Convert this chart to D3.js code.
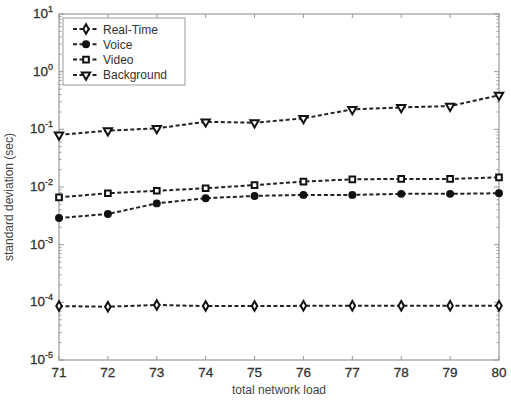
<!DOCTYPE html>
<html>
<head>
<meta charset="utf-8">
<script src="https://cdn.jsdelivr.net/npm/d3@7"></script>
<style>
  body { margin: 0; background: #fff; }
  text { font-family: "Liberation Sans", Arial, sans-serif; fill: #333; }
</style>
</head>
<body>
<svg id="chart" width="511" height="405"></svg>
<script>
const loads = [71, 72, 73, 74, 75, 76, 77, 78, 79, 80];
const realTime = [8.6e-5, 8.4e-5, 9.0e-5, 8.6e-5, 8.6e-5, 8.7e-5, 8.7e-5, 8.7e-5, 8.7e-5, 8.7e-5];
const voice = [0.0029, 0.0034, 0.0052, 0.0064, 0.0070, 0.0073, 0.0073, 0.0076, 0.0076, 0.0078];
const video = [0.0066, 0.0078, 0.0086, 0.0095, 0.0108, 0.0124, 0.0136, 0.0138, 0.0138, 0.0147];
const background = [0.080, 0.095, 0.104, 0.135, 0.130, 0.155, 0.222, 0.240, 0.253, 0.390];
const seriesNames = ["Real-Time", "Voice", "Video", "Background"];
const yExponents = [-5, -4, -3, -2, -1, 0, 1];

const svg = d3.select("#chart");
const margin = { left: 59, right: 12, top: 14, bottom: 45 };
const width = 511, height = 405;

const x = d3.scaleLinear().domain([71, 80]).range([margin.left, width - margin.right]);
const y = d3.scaleLog().domain([1e-5, 10]).range([height - margin.bottom, margin.top]);

const axisColor = "#999";

// frame
svg.append("rect")
    .attr("x", margin.left).attr("y", margin.top)
    .attr("width", x(80) - x(71)).attr("height", y(1e-5) - y(10))
    .attr("fill", "none").attr("stroke", axisColor).attr("stroke-width", 1.2);

// x ticks top and bottom
const g = svg.append("g");
loads.forEach(v => {
    g.append("line").attr("x1", x(v)).attr("x2", x(v))
        .attr("y1", y(1e-5)).attr("y2", y(1e-5) - 4).attr("stroke", axisColor);
    g.append("line").attr("x1", x(v)).attr("x2", x(v))
        .attr("y1", y(10)).attr("y2", y(10) + 4).attr("stroke", axisColor);
    g.append("text").attr("x", x(v)).attr("y", y(1e-5) + 17)
        .attr("text-anchor", "middle").style("font-size", "13.5px")
        .style("fill", "#333").style("stroke", "#333").style("stroke-width", 0.3).text(v);
});

// y ticks (major + minor, both sides)
yExponents.forEach(e => {
    for (let m = 1; m <= 9; m++) {
        const val = m * Math.pow(10, e);
        if (val > 10) break;
        const len = m === 1 ? 5 : 2.5;
        g.append("line").attr("x1", x(71)).attr("x2", x(71) + len)
            .attr("y1", y(val)).attr("y2", y(val)).attr("stroke", axisColor);
        g.append("line").attr("x1", x(80)).attr("x2", x(80) - len)
            .attr("y1", y(val)).attr("y2", y(val)).attr("stroke", axisColor);
    }
    const t = g.append("text").attr("x", 53).attr("y", y(Math.pow(10, e)) + 4)
        .attr("text-anchor", "end").style("font-size", "13.5px")
        .style("fill", "#333").style("stroke", "#333").style("stroke-width", 0.3);
    t.append("tspan").text("10");
    t.append("tspan").attr("dy", -6).style("font-size", "9px").text(e);
});

// axis titles
svg.append("text").attr("x", (x(71) + x(80)) / 2).attr("y", 394)
    .attr("text-anchor", "middle").style("font-size", "12px").style("fill", "#444")
    .text("total network load");
svg.append("text")
    .attr("transform", `translate(13,${(y(1e-5) + y(10)) / 2 + 10}) rotate(-90)`)
    .attr("text-anchor", "middle").style("font-size", "12px").style("fill", "#444")
    .text("standard deviation (sec)");

const symbols = {
    "Real-Time": d3.symbol().type(d3.symbolDiamond).size(26),
    "Voice": d3.symbol().type(d3.symbolCircle).size(28),
    "Video": d3.symbol().type(d3.symbolSquare).size(32),
    "Background": d3.symbol().type(d3.symbolTriangle).size(30)
};
const filled = { "Real-Time": false, "Voice": true, "Video": false, "Background": false };
const allSeries = [realTime, voice, video, background];

const line = d3.line().x((d, i) => x(loads[i])).y(d => y(d));

function drawMarker(sel, name, cx, cy) {
    sel.append("path")
        .attr("d", symbols[name]())
        .attr("transform", `translate(${cx},${cy})` + (name === "Background" ? " rotate(180)" : ""))
        .attr("fill", filled[name] ? "#111" : "#fff")
        .attr("stroke", "#111").attr("stroke-width", 2);
}

allSeries.forEach((vals, k) => {
    const name = seriesNames[k];
    svg.append("path").datum(vals)
        .attr("d", line).attr("fill", "none")
        .attr("stroke", "#222").attr("stroke-width", 2)
        .attr("stroke-dasharray", "4,2.5");
    vals.forEach((v, i) => drawMarker(svg, name, x(loads[i]), y(v)));
});

// legend
const legend = svg.append("g");
legend.append("rect").attr("x", 63).attr("y", 18).attr("width", 122).attr("height", 67)
    .attr("fill", "#fff").attr("stroke", axisColor).attr("stroke-width", 1);
seriesNames.forEach((name, k) => {
    const ly = 29 + k * 15.3;
    legend.append("line").attr("x1", 73).attr("x2", 99).attr("y1", ly).attr("y2", ly)
        .attr("stroke", "#222").attr("stroke-width", 2).attr("stroke-dasharray", "4,2.5");
    drawMarker(legend, name, 86, ly);
    legend.append("text").attr("x", 103).attr("y", ly + 4.5)
        .style("font-size", "12px").style("fill", "#333").text(name);
});
</script>
</body>
</html>
